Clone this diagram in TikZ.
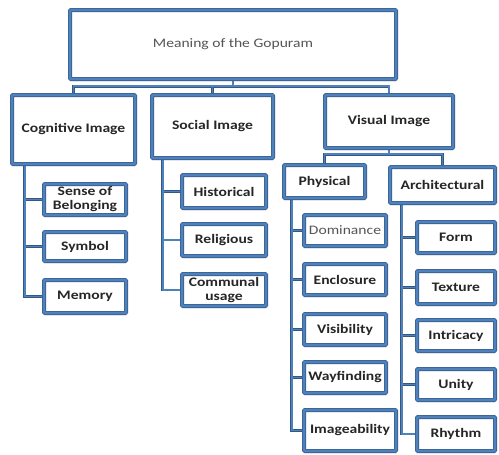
\documentclass[tikz,border=0pt]{standalone}
\usepackage{fontspec}
\setmainfont{Carlito}
\newfontfamily\boxfont[FakeStretch=1.2]{Carlito}
\usetikzlibrary{shadows,backgrounds}

\definecolor{boxblue}{RGB}{79,129,189}
\definecolor{edgeblue}{RGB}{52,88,132}
\definecolor{labelgray}{RGB}{85,85,85}

\tikzset{
  box/.style={draw=edgeblue, line width=0.6pt, double=boxblue, double distance=2.8pt,
    fill=white, rounded corners=1pt,
    inner sep=0pt, align=center, font=\boxfont\bfseries\fontsize{13}{14}\selectfont, text=black!85,
    drop shadow={opacity=0.35, shadow xshift=1.5pt, shadow yshift=-2pt}},
  plain/.style={font=\boxfont\fontsize{13}{14}\selectfont, text=labelgray},
  link/.style={draw=edgeblue, line width=0.5pt, double=boxblue, double distance=1.8pt},
}

\begin{document}
\begin{tikzpicture}[x=1pt, y=-1pt]
  \useasboundingbox (0,0) rectangle (499,455);

  % top of the tree
  \node[box, plain, minimum width=326, minimum height=69] (root) at (233,44.5) {Meaning of the Gopuram};

  % first level
  \node[box, minimum width=123, minimum height=69] (cog) at (73.5,129.5) {Cognitive Image};
  \node[box, minimum width=121, minimum height=63] (soc) at (212.5,126.5) {Social Image};
  \node[box, minimum width=128, minimum height=53] (vis) at (389,121.5) {Visual Image};

  % cognitive branch
  \node[box, minimum width=82, minimum height=31] (belong) at (85,199.5) {Sense of\\Belonging};
  \node[box, minimum width=82, minimum height=29] (symbol) at (85,246.5) {Symbol};
  \node[box, minimum width=82, minimum height=33] (memory) at (85,296.5) {Memory};

  % social branch
  \node[box, minimum width=84, minimum height=33] (hist) at (224,191.5) {Historical};
  \node[box, minimum width=84, minimum height=32] (relig) at (224,240) {Religious};
  \node[box, minimum width=84, minimum height=32] (commun) at (224,290) {Communal\\usage};

  % visual branch
  \node[box, minimum width=81, minimum height=33] (phys) at (324.5,181.5) {Physical};
  \node[box, minimum width=105, minimum height=36] (arch) at (442.5,185) {Architectural};

  \node[box, plain, minimum width=82, minimum height=31] (domin) at (345,230.5) {Dominance};
  \node[box, minimum width=82, minimum height=31] (enclos) at (345,279.5) {Enclosure};
  \node[box, minimum width=82, minimum height=31] (visib) at (345,329.5) {Visibility};
  \node[box, minimum width=82, minimum height=31] (wayf) at (345,377.5) {Wayfinding};
  \node[box, minimum width=92, minimum height=41] (imag) at (350,430.5) {Imageability};

  \node[box, minimum width=78, minimum height=31] (form) at (456,237.5) {Form};
  \node[box, minimum width=78, minimum height=33] (textur) at (456,287.5) {Texture};
  \node[box, minimum width=78, minimum height=31] (intric) at (456,335.5) {Intricacy};
  \node[box, minimum width=78, minimum height=31] (unity) at (456,384.5) {Unity};
  \node[box, minimum width=78, minimum height=34] (rhythm) at (456,434) {Rhythm};

  % connectors, kept behind the boxes (one path per group so the joins stay clean)
  \begin{pgfonlayer}{background}
    \draw[link] foreach \c in {cog,soc,vis} {(root.south) -- ++(0,7) -| (\c.north)};
    \draw[link] foreach \c in {phys,arch} {(vis.south) -- ++(0,6) -| (\c.north)};
    \draw[link] foreach \c in {belong,symbol,memory} {([xshift=13]cog.south west) |- (\c.west)};
    \draw[link] foreach \c in {hist,relig,commun} {([xshift=11]soc.south west) |- (\c.west)};
    \draw[link] foreach \c in {domin,enclos,visib,wayf,imag} {([xshift=8]phys.south west) |- (\c.west)};
    \draw[link] foreach \c in {form,textur,intric,unity,rhythm} {([xshift=12]arch.south west) |- (\c.west)};
  \end{pgfonlayer}
\end{tikzpicture}
\end{document}
